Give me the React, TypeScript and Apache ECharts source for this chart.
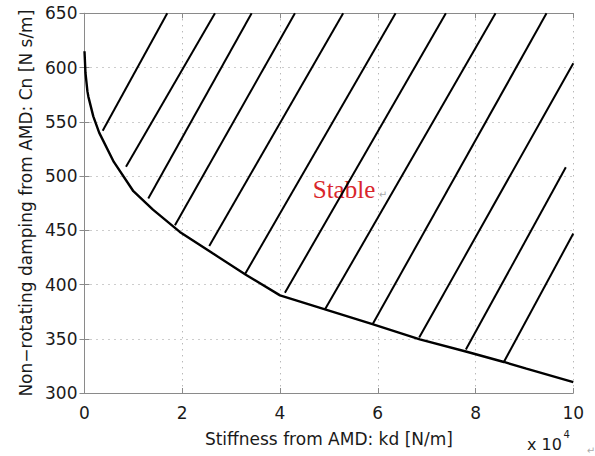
import React, { useEffect, useRef } from "react";
import * as echarts from "echarts";

// Boundary curve (x in units of 10^4 N/m, y in N s/m)
const curveX = [0, 0.02, 0.06, 0.08, 0.18, 0.3, 0.6, 1.0, 1.4, 1.95, 2.63, 3.3, 4.0, 4.92, 5.89, 6.86, 7.82, 8.58, 9.04, 10];
const curveY = [615, 595, 578, 573, 555, 540, 513, 486, 469, 448.5, 428.5, 409, 390, 377, 363.5, 349.5, 338, 328.6, 322.5, 310];

// Hatch segments (start near the curve, end at the top or right edge)
const hatchStartX = [0.372, 0.849, 1.305, 1.851, 2.552, 3.282, 4.1, 4.918, 5.894, 6.847, 7.802, 8.579];
const hatchStartY = [541.7, 508.5, 479.3, 454.7, 435.6, 409.5, 392.3, 376.9, 363.4, 351.1, 340, 328.6];
const hatchEndX = [1.693, 2.669, 3.419, 4.305, 5.292, 6.364, 7.393, 8.409, 9.452, 10, 9.847, 10];
const hatchEndY = [650, 650, 650, 650, 650, 650, 650, 650, 650, 604, 508, 447];

const xMin = 0;
const xMax = 10;
const xStep = 2;
const yMin = 300;
const yMax = 650;
const yStep = 50;

const xAxisTitle = "Stiffness from AMD: kd [N/m]";
const yAxisTitle = "Non\u2212rotating damping from AMD: Cn [N s/m]";
const regionLabel = "Stable";
const scaleBase = "x 10";
const scaleExp = "4";
const markGlyph = "\u21b5";

const FONT = "'DejaVu Sans', sans-serif";
const TEXT = "#1a1a1a";
const BOX = "#8a8a8a";

export default function App() {
  const ref = useRef<HTMLDivElement>(null);

  useEffect(() => {
    if (!ref.current) return;
    const chart = echarts.init(ref.current, null, { renderer: "svg" });

    const hatchSeries = hatchStartX.map((sx, i) => ({
      type: "line",
      xAxisIndex: 0,
      yAxisIndex: 0,
      data: [
        [sx, hatchStartY[i]],
        [hatchEndX[i], hatchEndY[i]],
      ],
      showSymbol: false,
      symbol: "none",
      lineStyle: { color: "#000", width: 2 },
      silent: true,
      clip: true,
    }));

    const baseAxis = {
      axisLine: { show: true, lineStyle: { color: BOX, width: 1 } },
      axisTick: { show: true, inside: true, length: 5, lineStyle: { color: BOX } },
    };

    chart.setOption({
      animation: false,
      backgroundColor: "#ffffff",
      grid: { left: 84.5, right: 21.7, top: 13.3, bottom: 63, containLabel: false },
      xAxis: [
        {
          type: "value",
          min: xMin,
          max: xMax,
          interval: xStep,
          position: "bottom",
          ...baseAxis,
          axisLabel: { color: TEXT, fontFamily: FONT, fontSize: 17, margin: 11 },
          splitLine: { show: true, lineStyle: { color: "#9a9a9a", type: [1, 5], width: 1 } },
          name: xAxisTitle,
          nameLocation: "middle",
          nameGap: 37,
          nameTextStyle: { color: TEXT, fontFamily: FONT, fontSize: 17 },
        },
        {
          type: "value",
          min: xMin,
          max: xMax,
          interval: xStep,
          position: "top",
          ...baseAxis,
          axisLabel: { show: false },
          splitLine: { show: false },
        },
      ],
      yAxis: [
        {
          type: "value",
          min: yMin,
          max: yMax,
          interval: yStep,
          position: "left",
          ...baseAxis,
          axisLabel: { color: TEXT, fontFamily: FONT, fontSize: 17, margin: 7 },
          splitLine: { show: true, lineStyle: { color: "#9a9a9a", type: [1, 5], width: 1 } },
          name: yAxisTitle,
          nameLocation: "middle",
          nameGap: 48,
          nameTextStyle: { color: TEXT, fontFamily: FONT, fontSize: 17 },
        },
        {
          type: "value",
          min: yMin,
          max: yMax,
          interval: yStep,
          position: "right",
          ...baseAxis,
          axisLabel: { show: false },
          splitLine: { show: false },
        },
      ],
      series: [
        {
          type: "line",
          xAxisIndex: 0,
          yAxisIndex: 0,
          data: curveX.map((x, i) => [x, curveY[i]]),
          showSymbol: false,
          symbol: "none",
          lineStyle: { color: "#000", width: 2.4 },
          silent: true,
        },
        ...hatchSeries,
      ],
      graphic: [
        {
          type: "text",
          x: 344,
          y: 189.5,
          style: {
            text: regionLabel,
            fill: "#d9262c",
            font: "25px 'Liberation Serif', serif",
            align: "center",
            verticalAlign: "middle",
          },
        },
        {
          type: "text",
          x: 383,
          y: 194,
          style: { text: markGlyph, fill: "#aaaaaa", font: `10px ${FONT}`, align: "center", verticalAlign: "middle" },
        },
        {
          type: "text",
          x: 527,
          y: 444,
          style: { text: scaleBase, fill: TEXT, font: `16px ${FONT}`, align: "left", verticalAlign: "middle" },
        },
        {
          type: "text",
          x: 563.5,
          y: 434,
          style: { text: scaleExp, fill: TEXT, font: `10px ${FONT}`, align: "left", verticalAlign: "middle" },
        },
        {
          type: "text",
          x: 591,
          y: 450,
          style: { text: markGlyph, fill: "#aaaaaa", font: `10px ${FONT}`, align: "center", verticalAlign: "middle" },
        },
      ],
    });

    return () => chart.dispose();
  }, []);

  return (
    <div
      ref={ref}
      style={{ position: "fixed", left: 0, top: 0, width: 595, height: 456, background: "#fff" }}
    />
  );
}
